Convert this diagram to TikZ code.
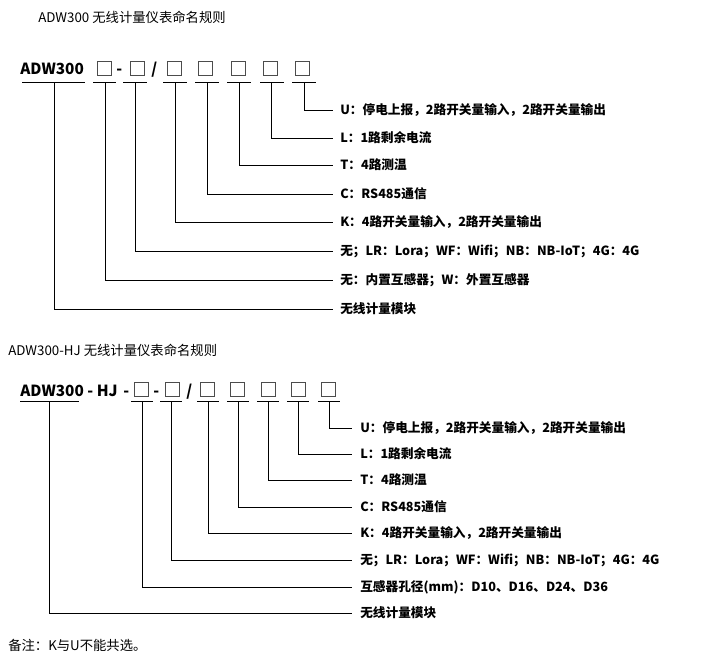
\documentclass[tikz,border=0pt]{standalone}
\usepackage{fontspec}
\setmainfont{Noto Sans CJK SC}
\begin{document}
\begin{tikzpicture}[x=0.75pt,y=-0.75pt,
  sq/.style={draw=black!70,line width=0.6pt,minimum width=10.5pt,minimum height=10.5pt,inner sep=0pt},
  ln/.style={line width=0.6pt},
  lbl/.style={anchor=west,font=\bfseries\fontsize{9.5}{11}\selectfont,inner sep=0pt},
  ttl/.style={anchor=west,font=\fontsize{10}{12}\selectfont,inner sep=0pt},
  big/.style={anchor=base west,font=\bfseries\fontsize{11.5}{14}\selectfont,inner sep=0pt}]
\useasboundingbox (0,0) rectangle (707,664);
\node[ttl] (t1) at (38,17) {ADW300 无线计量仪表命名规则};
\node[big] (m1) at (20,74) {ADW300};
\foreach \n/\x in {a/104,b/137,c/174,d/205,e/238,f/270,g/302}{\node[sq] (b1\n) at (\x,68) {};}
\node[big] (d1) at (116,74) {-};
\node[big] (s1) at (151,74) {/};
\foreach \a/\b in {22/85,93/116,123/147,163/187,195/219,227/251,260/284,292/316}{\draw[ln] (\a,82) -- (\b,82);}
\foreach \x/\y/\t in {304/110/{U：停电上报，2路开关量输入，2路开关量输出},271/138/{L：1路剩余电流},239/165/{T：4路测温},207/194/{C：RS485通信},175/222/{K：4路开关量输入，2路开关量输出},135/251/{无；LR：Lora；WF：Wifi；NB：NB-IoT；4G：4G},105/280/{无：内置互感器；W：外置互感器},54/309/{无线计量模块}}{
  \coordinate (c) at (\x,82);
  \node[lbl] (L) at (340,\y) {\t};
  \draw[ln] (c) |- (333,\y);}
\node[ttl] (t2) at (8,350) {ADW300-HJ 无线计量仪表命名规则};
\node[big] (m2) at (20,396) {ADW300 - HJ};
\node[big] (d2) at (123,396) {-};
\node[big] (d3) at (153,396) {-};
\node[big] (s2) at (186,396) {/};
\foreach \n/\x in {a/141,b/172,c/207,d/237,e/268,f/298,g/328}{\node[sq] (b2\n) at (\x,389) {};}
\foreach \a/\b in {20/79,131/153,160/182,197/219,227/249,257/279,287/309,318/340}{\draw[ln] (\a,401) -- (\b,401);}
\foreach \x/\y/\t in {329/428/{U：停电上报，2路开关量输入，2路开关量输出},298/454/{L：1路剩余电流},268/480/{T：4路测温},238/507/{C：RS485通信},208/533/{K：4路开关量输入，2路开关量输出},171/560/{无；LR：Lora；WF：Wifi；NB：NB-IoT；4G：4G},142/587/{互感器孔径(mm)：D10、D16、D24、D36},49/613/{无线计量模块}}{
  \coordinate (c) at (\x,401);
  \node[lbl] (L) at (360,\y) {\t};
  \draw[ln] (c) |- (352,\y);}
\node[ttl] (n) at (8,645) {备注：K与U不能共选。};
\end{tikzpicture}
\end{document}
